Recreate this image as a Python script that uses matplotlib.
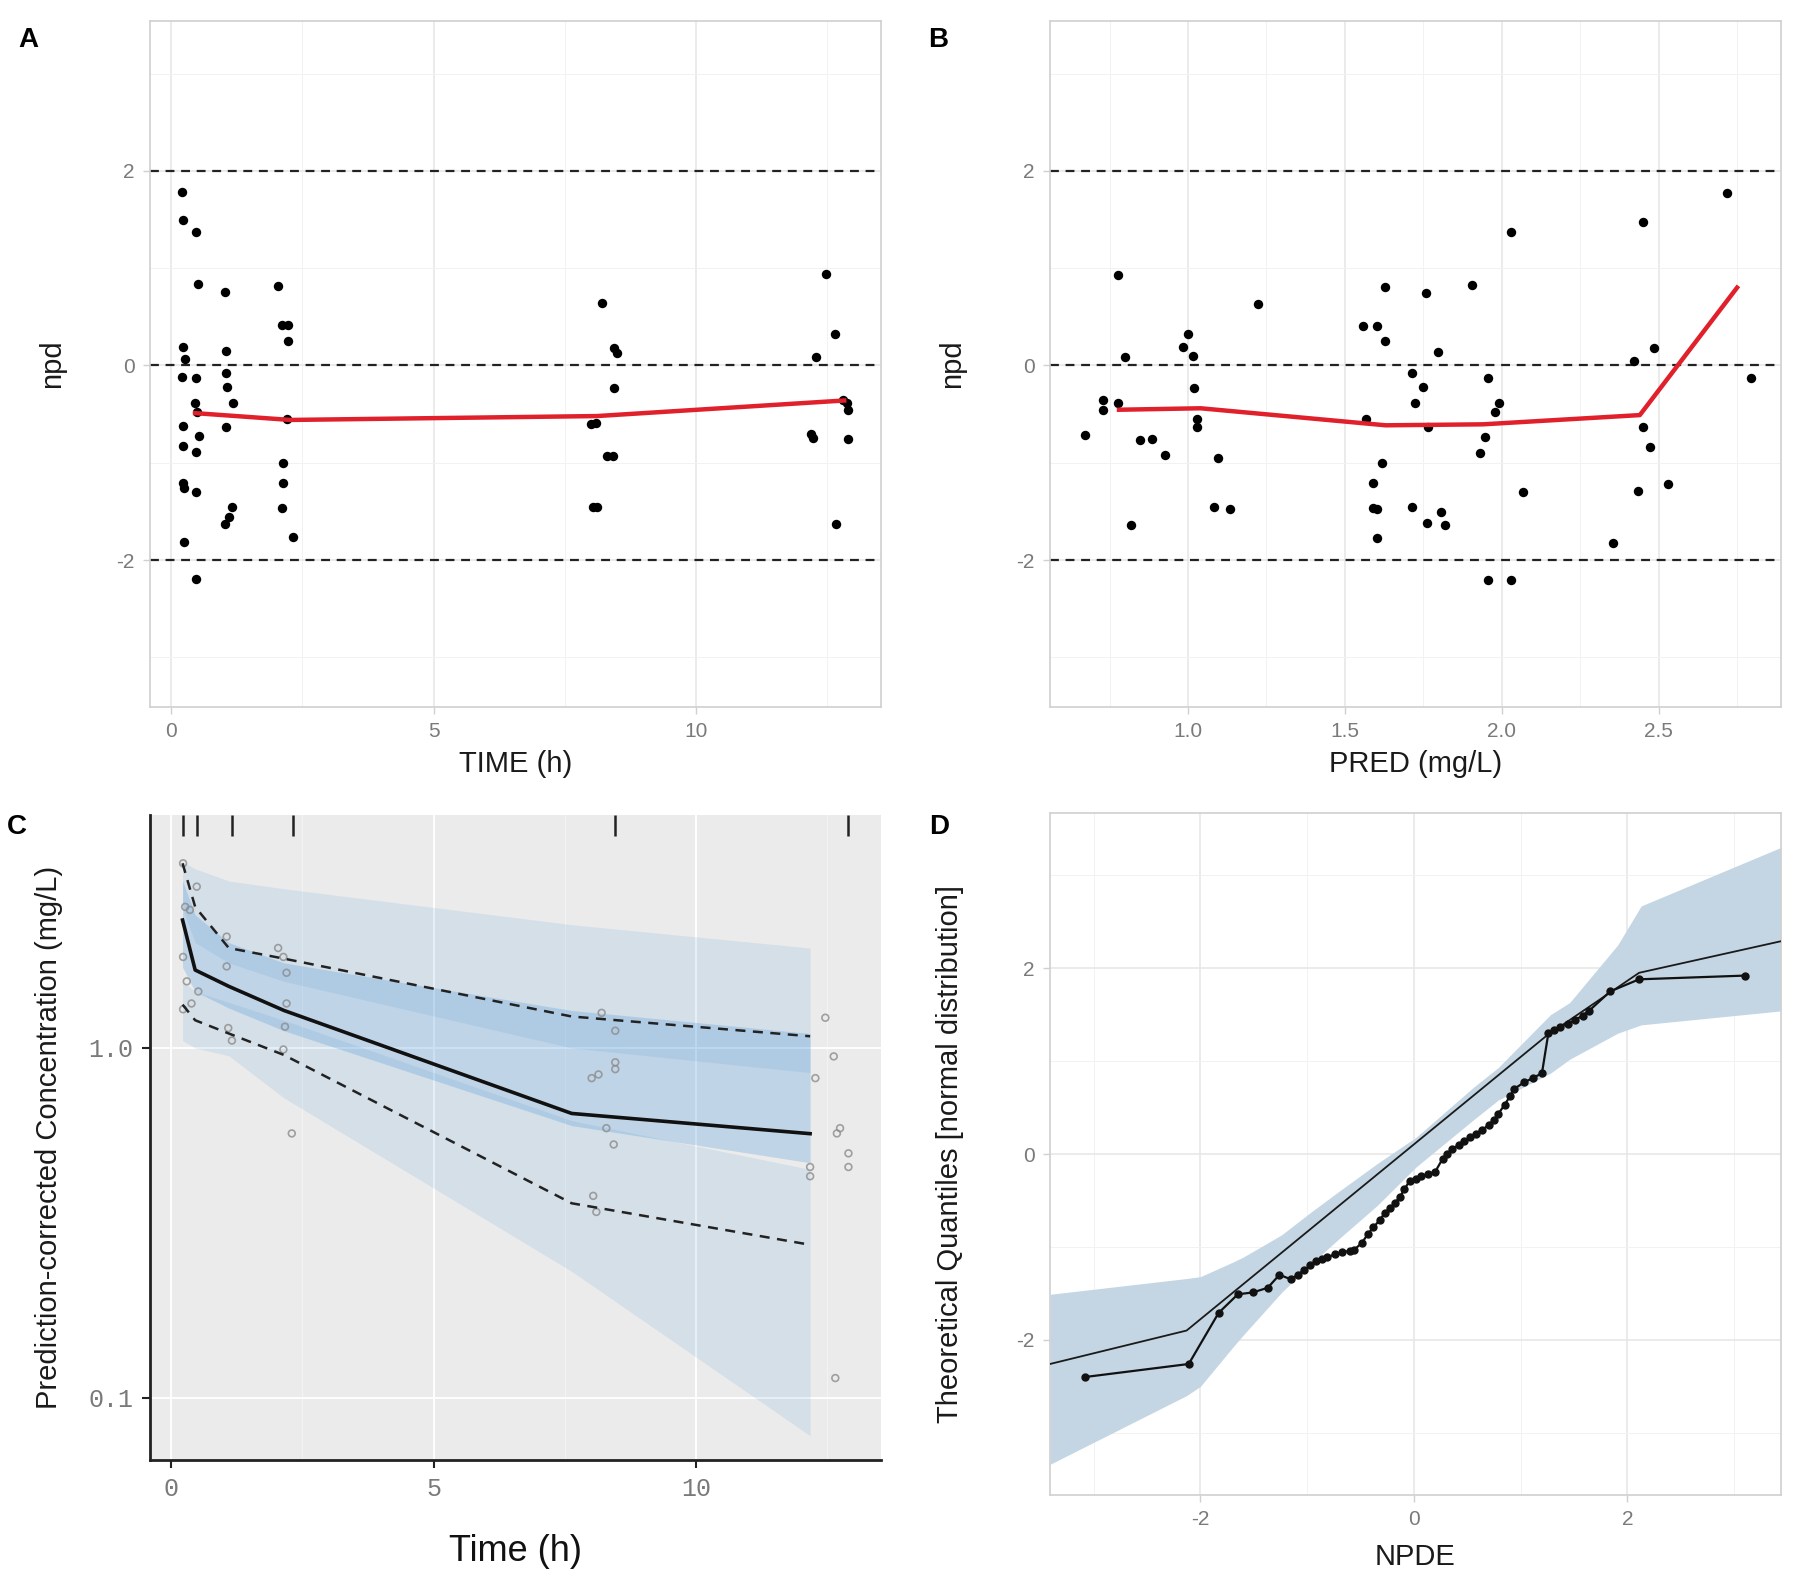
import numpy as np
import matplotlib
matplotlib.use("Agg")
import matplotlib.pyplot as plt
import matplotlib.transforms as mtransforms

plt.rcParams['font.family'] = ['Liberation Sans', 'DejaVu Sans']
plt.rcParams['axes.unicode_minus'] = False

# ====================== 数据 ======================
# A: npd vs TIME
a_time = [0.20, 0.23, 0.48, 0.52, 0.23, 0.27, 0.20, 0.48, 0.46, 0.49, 0.23, 0.54, 0.23, 0.48,
          0.23, 0.25, 0.48, 0.24, 0.48,
          1.03, 1.05, 1.05, 1.07, 1.19, 1.05, 1.16, 1.11, 1.03,
          2.04, 2.11, 2.23, 2.22, 2.20, 2.14, 2.14, 2.11, 2.33,
          8.20, 8.44, 8.50, 8.44, 8.00, 8.10, 8.31, 8.42, 8.03, 8.11,
          12.47, 12.65, 12.29, 12.79, 12.87, 12.89, 12.18, 12.22, 12.89, 12.67]
a_npd = [1.78, 1.49, 1.37, 0.84, 0.19, 0.07, -0.12, -0.13, -0.39, -0.48, -0.62, -0.73, -0.83, -0.89,
         -1.21, -1.26, -1.30, -1.81, -2.19,
         0.75, 0.15, -0.08, -0.22, -0.39, -0.63, -1.45, -1.56, -1.63,
         0.82, 0.42, 0.42, 0.25, -0.55, -1.00, -1.21, -1.47, -1.76,
         0.64, 0.18, 0.13, -0.23, -0.60, -0.59, -0.93, -0.93, -1.45, -1.45,
         0.94, 0.32, 0.085, -0.36, -0.39, -0.46, -0.70, -0.75, -0.76, -1.63]
a_smooth_x = [0.46, 2.27, 8.11, 12.82]
a_smooth_y = [-0.49, -0.56, -0.52, -0.36]

# B: npd vs PRED
b_pred = [0.671, 0.776, 0.799, 0.730, 0.730, 0.776, 0.818, 0.846, 0.884, 0.925,
          1.001, 0.983, 1.016, 1.019, 1.029, 1.029, 1.097, 1.082, 1.135, 1.222,
          1.559, 1.602, 1.568, 1.628, 1.629, 1.617, 1.590, 1.590, 1.602, 1.602,
          1.757, 1.796, 1.713, 1.750, 1.723, 1.766, 1.713, 1.761, 1.807, 1.818,
          1.906, 2.028, 1.955, 1.990, 1.979, 1.947, 1.932, 2.069, 1.955, 2.028,
          2.355, 2.449, 2.420, 2.484, 2.449, 2.471, 2.434, 2.530, 2.717, 2.793]
b_npd = [-0.71, 0.93, 0.085, -0.36, -0.46, -0.39, -1.64, -0.77, -0.76, -0.92,
         0.32, 0.19, 0.10, -0.23, -0.55, -0.63, -0.95, -1.45, -1.48, 0.63,
         0.41, 0.41, -0.55, 0.81, 0.25, -1.00, -1.21, -1.47, -1.48, -1.77,
         0.74, 0.14, -0.075, -0.22, -0.39, -0.63, -1.45, -1.62, -1.51, -1.64,
         0.83, 1.37, -0.13, -0.39, -0.48, -0.74, -0.90, -1.30, -2.20, -2.20,
         -1.82, 1.47, 0.05, 0.18, -0.63, -0.84, -1.29, -1.22, 1.77, -0.13]
b_smooth_x = [0.78, 1.04, 1.63, 1.94, 2.44, 2.75]
b_smooth_y = [-0.455, -0.44, -0.615, -0.605, -0.51, 0.80]

# C: pcVPC
c_bin_t = [0.22, 0.46, 1.10, 2.15, 7.63, 12.17]
c_obs_med = [2.32, 1.67, 1.50, 1.28, 0.65, 0.569]
c_obs_hi = [3.37, 2.53, 1.93, 1.80, 1.23, 1.08]
c_obs_lo = [1.33, 1.20, 1.10, 0.955, 0.36, 0.274]
c_med_lo = [1.70, 1.45, 1.30, 1.12, 0.60, 0.47]
c_med_hi = [3.00, 2.40, 2.00, 1.75, 1.28, 1.10]
c_hi_lo = [2.50, 2.00, 1.75, 1.55, 1.00, 0.85]
c_hi_hi = [3.40, 3.25, 3.00, 2.85, 2.25, 1.93]
c_lo_lo = [1.05, 1.00, 0.95, 0.72, 0.23, 0.078]
c_lo_hi = [1.55, 1.45, 1.35, 1.20, 0.62, 0.45]
c_pts_t = [0.23, 0.49, 0.27, 0.36, 0.23, 0.30, 0.52, 0.39, 0.23,
           1.06, 1.06, 1.09, 1.16,
           2.04, 2.14, 2.20, 2.20, 2.17, 2.14, 2.30,
           8.20, 8.46, 8.46, 8.46, 8.14, 8.01, 8.29, 8.43, 8.04, 8.10,
           12.46, 12.62, 12.27, 12.74, 12.68, 12.90, 12.90, 12.17, 12.17, 12.65]
c_pts_c = [3.37, 2.89, 2.53, 2.48, 1.82, 1.55, 1.45, 1.34, 1.29,
           2.08, 1.71, 1.14, 1.05,
           1.93, 1.82, 1.64, 1.34, 1.15, 0.99, 0.57,
           1.26, 1.12, 0.91, 0.87, 0.84, 0.82, 0.59, 0.53, 0.378, 0.34,
           1.22, 0.946, 0.82, 0.59, 0.57, 0.50, 0.457, 0.457, 0.43, 0.114]
c_bins = [0.23, 0.49, 1.16, 2.33, 8.46, 12.9]

# D: NPDE QQ
d_theo_x = [-3.41, -2.13, 1.24, 2.11, 3.44]
d_theo_y = [-2.26, -1.90, 1.27, 1.95, 2.29]
d_band_x = [-3.41, -2.13, -2.00, -1.69, -1.60, -1.24, -0.97, -0.70, -0.34, 0.02, 0.56, 0.79,
            1.28, 1.46, 1.91, 2.13, 3.44]
d_band_hi = [-1.51, -1.34, -1.32, -1.16, -1.11, -0.87, -0.63, -0.40, -0.10, 0.18, 0.72, 0.93,
             1.50, 1.63, 2.25, 2.67, 3.30]
d_band_lo = [-3.34, -2.60, -2.50, -2.07, -1.95, -1.49, -1.19, -0.91, -0.55, -0.14, 0.37, 0.58,
             0.87, 1.02, 1.30, 1.39, 1.54]
d_obs_x = [-3.08, -2.11, -1.83, -1.65, -1.51, -1.37, -1.26, -1.15, -1.09, -1.03, -0.97, -0.92,
           -0.86, -0.81, -0.74, -0.67, -0.60, -0.56, -0.49, -0.43, -0.38, -0.32, -0.27, -0.22,
           -0.18, -0.13, -0.09, -0.04, 0.02, 0.07, 0.13, 0.20, 0.27, 0.31, 0.36, 0.42, 0.47,
           0.53, 0.58, 0.64, 0.70, 0.75, 0.79, 0.85, 0.90, 0.94, 1.03, 1.12, 1.20, 1.26, 1.31,
           1.37, 1.44, 1.51, 1.58, 1.64, 1.84, 2.11, 3.10]
d_obs_y = [-2.40, -2.26, -1.71, -1.51, -1.49, -1.44, -1.30, -1.35, -1.30, -1.25, -1.20, -1.15,
           -1.13, -1.11, -1.08, -1.06, -1.04, -1.03, -0.96, -0.86, -0.79, -0.71, -0.63, -0.58,
           -0.53, -0.46, -0.38, -0.29, -0.27, -0.24, -0.22, -0.19, -0.05, 0.00, 0.05, 0.10, 0.14,
           0.18, 0.22, 0.26, 0.31, 0.37, 0.43, 0.53, 0.62, 0.70, 0.77, 0.82, 0.87, 1.30, 1.33,
           1.37, 1.40, 1.44, 1.49, 1.54, 1.75, 1.88, 1.92]

# ====================== 样式 ======================
TICK_C = "#7a7a7a"
TITLE_C = "#1a1a1a"
BORDER_C = "#d0d0d0"
GRID_MAJ = "#e6e6e6"
GRID_MIN = "#f2f2f2"
RIBBON = "#5aa0dc"

fig = plt.figure(figsize=(18, 15.84), dpi=100)
W, H = 1800.0, 1584.0


def box(l, t, r, b):
    return [l / W, 1 - b / H, (r - l) / W, (b - t) / H]


def light_theme(ax):
    ax.set_facecolor("white")
    for s in ax.spines.values():
        s.set_color(BORDER_C)
        s.set_linewidth(1.2)
    ax.tick_params(which="major", colors=BORDER_C, labelcolor=TICK_C, labelsize=15,
                   length=5, width=1.0, pad=6)
    ax.tick_params(which="minor", length=0)
    ax.grid(True, which="major", color=GRID_MAJ, lw=1.1)
    ax.grid(True, which="minor", color=GRID_MIN, lw=0.7)
    ax.set_axisbelow(True)


# ---------- A ----------
axA = fig.add_axes(box(150, 21, 881, 707))
light_theme(axA)
axA.set_xlim(-0.4, 13.52)
axA.set_ylim(-3.51, 3.54)
axA.set_xticks([0, 5, 10])
axA.set_xticks([2.5, 7.5, 12.5], minor=True)
axA.set_yticks([-2, 0, 2])
axA.set_yticks([-3, -1, 1, 3], minor=True)
for yv in (-2, 0, 2):
    axA.axhline(yv, color="#222222", lw=1.6, ls=(0, (4, 3)), zorder=2)
axA.scatter(a_time, a_npd, s=46, color="black", zorder=3, linewidths=0)
axA.plot(a_smooth_x, a_smooth_y, color="#e0202a", lw=3.2, zorder=4)
axA.set_xlabel("TIME (h)", fontsize=21, color=TITLE_C, labelpad=6)
axA.set_ylabel("npd", fontsize=21, color=TITLE_C, labelpad=36)

# ---------- B ----------
axB = fig.add_axes(box(1050, 21, 1781, 707))
light_theme(axB)
axB.set_xlim(0.56, 2.89)
axB.set_ylim(-3.51, 3.54)
axB.set_xticks([1.0, 1.5, 2.0, 2.5])
axB.set_xticklabels(["1.0", "1.5", "2.0", "2.5"])
axB.set_xticks([0.75, 1.25, 1.75, 2.25, 2.75], minor=True)
axB.set_yticks([-2, 0, 2])
axB.set_yticks([-3, -1, 1, 3], minor=True)
for yv in (-2, 0, 2):
    axB.axhline(yv, color="#222222", lw=1.6, ls=(0, (4, 3)), zorder=2)
axB.scatter(b_pred, b_npd, s=46, color="black", zorder=3, linewidths=0)
axB.plot(b_smooth_x, b_smooth_y, color="#e0202a", lw=3.2, zorder=4)
axB.set_xlabel("PRED (mg/L)", fontsize=21, color=TITLE_C, labelpad=6)
axB.set_ylabel("npd", fontsize=21, color=TITLE_C, labelpad=36)

# ---------- C ----------
axC = fig.add_axes(box(150, 815, 881, 1460))
axC.set_facecolor("#ebebeb")
axC.set_yscale("log")
axC.set_xlim(-0.4, 13.52)
axC.set_ylim(0.0665, 4.63)
axC.set_xticks([0, 5, 10])
axC.set_xticks([2.5, 7.5, 12.5], minor=True)
axC.set_yticks([0.1, 1.0])
axC.set_yticklabels(["0.1", "1.0"])
axC.yaxis.set_minor_locator(matplotlib.ticker.NullLocator())
axC.grid(True, which="major", color="white", lw=1.3)
axC.grid(True, which="minor", axis="x", color="#f4f4f4", lw=0.7)
axC.set_axisbelow(True)
for s in ("top", "right"):
    axC.spines[s].set_visible(False)
for s in ("left", "bottom"):
    axC.spines[s].set_color("#222222")
    axC.spines[s].set_linewidth(2.0)
axC.tick_params(which="major", colors="#222222", labelcolor=TICK_C, length=6, width=1.5, pad=6)
axC.tick_params(which="minor", length=0)
for lab in axC.get_xticklabels() + axC.get_yticklabels():
    lab.set_family("Liberation Mono")
    lab.set_fontsize(18)

axC.fill_between(c_bin_t, c_hi_lo, c_hi_hi, color=RIBBON, alpha=0.15, lw=0)
axC.fill_between(c_bin_t, c_lo_lo, c_lo_hi, color=RIBBON, alpha=0.15, lw=0)
axC.fill_between(c_bin_t, c_med_lo, c_med_hi, color=RIBBON, alpha=0.3, lw=0)
axC.scatter(c_pts_t, c_pts_c, s=24, facecolors="none", edgecolors="#8c8c8c",
            linewidths=1.2, alpha=0.8, zorder=3)
axC.plot(c_bin_t, c_obs_med, color="#111111", lw=2.6, zorder=4)
axC.plot(c_bin_t, c_obs_hi, color="#222222", lw=1.8, ls=(0, (4, 3)), zorder=4)
axC.plot(c_bin_t, c_obs_lo, color="#222222", lw=1.8, ls=(0, (4, 3)), zorder=4)
trans = mtransforms.blended_transform_factory(axC.transData, axC.transAxes)
axC.vlines(c_bins, 0.967, 1.0, transform=trans, color="#222222", lw=1.8)
axC.set_xlabel("Time (h)", fontsize=26, color="#111111", labelpad=24)
axC.set_ylabel("Prediction-corrected Concentration (mg/L)", fontsize=21, color=TITLE_C,
               labelpad=18)

# ---------- D ----------
axD = fig.add_axes(box(1050, 813, 1781, 1495))
light_theme(axD)
axD.set_xlim(-3.41, 3.44)
axD.set_ylim(-3.67, 3.67)
axD.set_xticks([-2, 0, 2])
axD.set_xticks([-3, -1, 1, 3], minor=True)
axD.set_yticks([-2, 0, 2])
axD.set_yticks([-3, -1, 1, 3], minor=True)
axD.fill_between(d_band_x, d_band_lo, d_band_hi, color="#c4d6e3", lw=0, zorder=1)
axD.plot(d_theo_x, d_theo_y, color="#1a1a1a", lw=1.3, zorder=3)
axD.plot(d_obs_x, d_obs_y, color="#111111", lw=1.6, marker="o", ms=5.0, zorder=4)
axD.set_xlabel("NPDE", fontsize=21, color=TITLE_C, labelpad=10)
axD.set_ylabel("Theoretical Quantiles [normal distribution]", fontsize=21, color=TITLE_C,
               labelpad=38)

# ---------- panel labels ----------
for lab, x, y in (("A", 28, 40), ("B", 938, 40), ("C", 17, 827), ("D", 939, 827)):
    fig.text(x / W, 1 - y / H, lab, fontsize=20, fontweight="bold", ha="center", va="center")

fig.savefig("out.png", dpi=100)
